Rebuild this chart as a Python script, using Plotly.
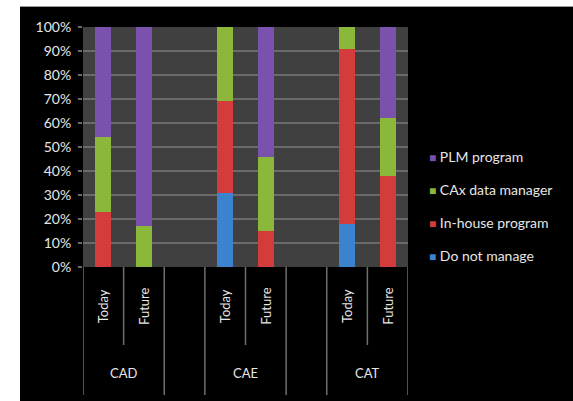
import plotly.graph_objects as go

groups = ["CAD", "CAE", "CAT"]
periods = ["Today", "Future"]

series_names = ["Do not manage", "In-house program", "CAx data manager", "PLM program"]
do_not_manage = [0, 0, 31, 0, 18, 0]
in_house = [23, 0, 38, 15, 73, 38]
cax_manager = [31, 17, 31, 31, 9, 24]
plm_program = [46, 83, 0, 54, 0, 38]
colors = ["#3b82cf", "#d43b3b", "#8bb83a", "#7a52ad"]

y_ticks = list(range(0, 101, 10))

# positions: each group has 2 bars + 1 blank slot
xpos = [g * 3 + p for g in range(len(groups)) for p in range(len(periods))]
xlabels = [p for g in groups for p in periods]

W, H = 573, 401
ML, MR, MT, MB = 83, 165, 27, 134
PW, PH = W - ML - MR, H - MT - MB

def px_x(p):
    return (p - ML) / PW

def px_y(p):
    return (H - MB - p) / PH

fig = go.Figure()
for name, vals, col in zip(series_names, [do_not_manage, in_house, cax_manager, plm_program], colors):
    fig.add_trace(go.Bar(x=xpos, y=vals, name=name, marker=dict(color=col, line=dict(width=0)),
                         width=0.4, showlegend=False))
# legend entries: small coloured square drawn as text, top item = last stacked series
for name, col in reversed(list(zip(series_names, colors))):
    label = f'<span style="color:{col};font-size:12px">■</span> {name}'
    fig.add_trace(go.Scatter(x=[None], y=[None], mode="markers", name=label, legendgroup=name,
                             marker=dict(symbol="square", size=1, color="rgba(0,0,0,0)")))

font_family = "Lato, 'Open Sans', sans-serif"
txt_col = "#e6e6e6"

annotations = []
for x, lab in zip(xpos, xlabels):
    annotations.append(dict(x=x, y=px_y(306), xref="x", yref="paper", text=lab, textangle=-90,
                            showarrow=False, font=dict(size=13, color=txt_col, family=font_family),
                            xanchor="center", yanchor="middle"))
for gi, g in enumerate(groups):
    annotations.append(dict(x=gi * 3 + 0.5, y=px_y(373), xref="x", yref="paper", text=g,
                            showarrow=False, font=dict(size=13, color=txt_col, family=font_family),
                            xanchor="center", yanchor="middle"))

shapes = []
div_col = "#6e6e6e"
n_slots = len(groups) * 3 - 1
for gi in range(len(groups)):
    left = gi * 3 - 0.5
    shapes.append(dict(type="line", xref="x", yref="paper", x0=left, x1=left, y0=0, y1=px_y(395),
                       line=dict(color=div_col, width=1.5)))
    shapes.append(dict(type="line", xref="x", yref="paper", x0=left + 2, x1=left + 2, y0=0, y1=px_y(395),
                       line=dict(color=div_col, width=1.5)))
    shapes.append(dict(type="line", xref="x", yref="paper", x0=left + 1, x1=left + 1, y0=0, y1=px_y(345),
                       line=dict(color=div_col, width=1.5)))
# white border strips
shapes.append(dict(type="rect", xref="paper", yref="paper", x0=px_x(0), x1=px_x(20), y0=px_y(H), y1=px_y(0),
                   fillcolor="white", line=dict(width=0), layer="above"))
shapes.append(dict(type="rect", xref="paper", yref="paper", x0=px_x(0), x1=px_x(W), y0=px_y(6), y1=px_y(0),
                   fillcolor="white", line=dict(width=0), layer="above"))
shapes.append(dict(type="line", xref="paper", yref="paper", x0=px_x(20), x1=px_x(W), y0=px_y(6.5), y1=px_y(6.5),
                   line=dict(color="#9a9a9a", width=1), layer="above"))

fig.update_layout(
    width=W, height=H,
    margin=dict(l=ML, r=MR, t=MT, b=MB, autoexpand=False),
    paper_bgcolor="black",
    plot_bgcolor="#404040",
    barmode="stack",
    font=dict(family=font_family, color=txt_col, size=14),
    xaxis=dict(range=[-0.5, n_slots - 0.5], showticklabels=False, showgrid=False, zeroline=False,
               ticks="", fixedrange=True),
    yaxis=dict(range=[0, 100], tickvals=y_ticks, ticktext=[f"{v}%" for v in y_ticks],
               showgrid=True, gridcolor="#6a6a6a", gridwidth=1.5, zeroline=False,
               ticks="outside", ticklen=4, tickcolor="#6a6a6a", tickwidth=1.5,
               ticklabelstandoff=4,
               tickfont=dict(size=14, color=txt_col, family=font_family)),
    legend=dict(x=px_x(389), y=px_y(206), xanchor="left", yanchor="middle",
                traceorder="grouped", tracegroupgap=12, itemwidth=30,
                bgcolor="rgba(0,0,0,0)", font=dict(size=14, color=txt_col, family=font_family)),
    annotations=annotations,
    shapes=shapes,
    showlegend=True,
)

fig.write_html("out.html")
